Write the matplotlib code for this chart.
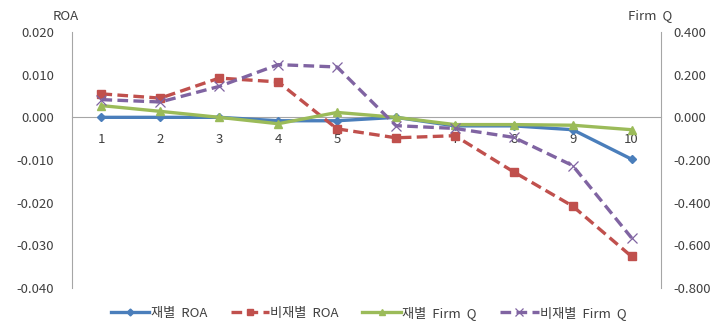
import matplotlib.pyplot as plt
from matplotlib.lines import Line2D

plt.rcParams['font.family'] = ['Noto Sans CJK KR', 'DejaVu Sans']

# decile groups and series
groups = ['1', '2', '3', '4', '5', '6', '7', '8', '9', '10']
chaebol_roa = [0.0, 0.0, 0.0, -0.0008, -0.0008, 0.0, -0.0020, -0.0020, -0.0029, -0.0098]
non_chaebol_roa = [0.0055, 0.0045, 0.0092, 0.0083, -0.0027, -0.0048, -0.0043, -0.0128, -0.0208, -0.0326]
chaebol_q = [0.055, 0.028, 0.0, -0.030, 0.023, 0.0, -0.034, -0.034, -0.037, -0.058]
non_chaebol_q = [0.083, 0.072, 0.145, 0.247, 0.236, -0.039, -0.052, -0.094, -0.226, -0.565]

roa_ticks = [0.02, 0.01, 0.0, -0.01, -0.02, -0.03, -0.04]
q_ticks = [0.4, 0.2, 0.0, -0.2, -0.4, -0.6, -0.8]

c_blue = '#4A7EBB'
c_red = '#C0504D'
c_green = '#9BBB59'
c_purple = '#8064A2'
c_axis = '#A6A6A6'
c_text = '#404040'
dash = (0, (3.2, 1.6))

fig = plt.figure(figsize=(7.16, 3.25), dpi=100)
ax = fig.add_axes([72 / 716, 1 - 288 / 325, (661 - 72) / 716, (288 - 32) / 325])
ax2 = ax.twinx()

x = list(range(len(groups)))

ax.plot(x, chaebol_roa, color=c_blue, lw=2.4, marker='D', ms=4.5,
        mfc=c_blue, mec=c_blue, zorder=3)
ax.plot(x, non_chaebol_roa, color=c_red, lw=2.4, ls=dash, marker='s', ms=6,
        mfc=c_red, mec=c_red, zorder=3)
ax2.plot(x, chaebol_q, color=c_green, lw=2.4, marker='^', ms=6,
         mfc=c_green, mec=c_green, zorder=3)
ax2.plot(x, non_chaebol_q, color=c_purple, lw=2.4, ls=dash, marker='x', ms=7,
         mew=0.9, zorder=3)

ax.set_xlim(-0.5, len(groups) - 0.5)
ax.set_ylim(-0.04, 0.02)
ax2.set_ylim(-0.8, 0.4)

ax.set_yticks(roa_ticks)
ax.set_yticklabels([f'{v:.3f}' for v in roa_ticks])
ax2.set_yticks(q_ticks)
ax2.set_yticklabels([f'{v:.3f}' for v in q_ticks])

ax.set_xticks(x)
ax.set_xticklabels(groups)

for a in (ax, ax2):
    a.spines['top'].set_visible(False)
    a.spines['bottom'].set_visible(False)
    a.spines['left'].set_color(c_axis)
    a.spines['right'].set_color(c_axis)
    a.tick_params(length=0, labelsize=9.5, labelcolor=c_text)
ax2.spines['left'].set_visible(False)
ax.spines['right'].set_visible(False)

# category axis sits on the zero line
ax.spines['bottom'].set_visible(True)
ax.spines['bottom'].set_position(('data', 0))
ax.spines['bottom'].set_color(c_axis)
ax.tick_params(axis='x', pad=11)
ax.tick_params(axis='y', pad=13)
ax2.tick_params(axis='y', pad=9)

fig.text(53 / 716, 1 - 17 / 325, 'ROA', fontsize=9.5, color=c_text, va='center', ha='left')
fig.text(672 / 716, 1 - 16 / 325, 'Firm  Q', fontsize=9.5, color=c_text, va='center', ha='right')

handles = [
    Line2D([], [], color=c_blue, lw=2.4, marker='D', ms=3.5),
    Line2D([], [], color=c_red, lw=2.4, ls=dash, marker='s', ms=5),
    Line2D([], [], color=c_green, lw=2.4, marker='^', ms=5),
    Line2D([], [], color=c_purple, lw=2.4, ls=dash, marker='x', ms=5.5, mew=0.9),
]
labels = ['재별  ROA', '비재별  ROA', '재별  Firm  Q', '비재별  Firm  Q']
fig.legend(handles, labels, loc='center', bbox_to_anchor=(0.515, 1 - 313 / 325),
           ncol=4, frameon=False, fontsize=9.5, handlelength=2.9, handletextpad=0.1,
           columnspacing=1.8, labelcolor=c_text)

fig.savefig('out.png', dpi=100, facecolor='white')
